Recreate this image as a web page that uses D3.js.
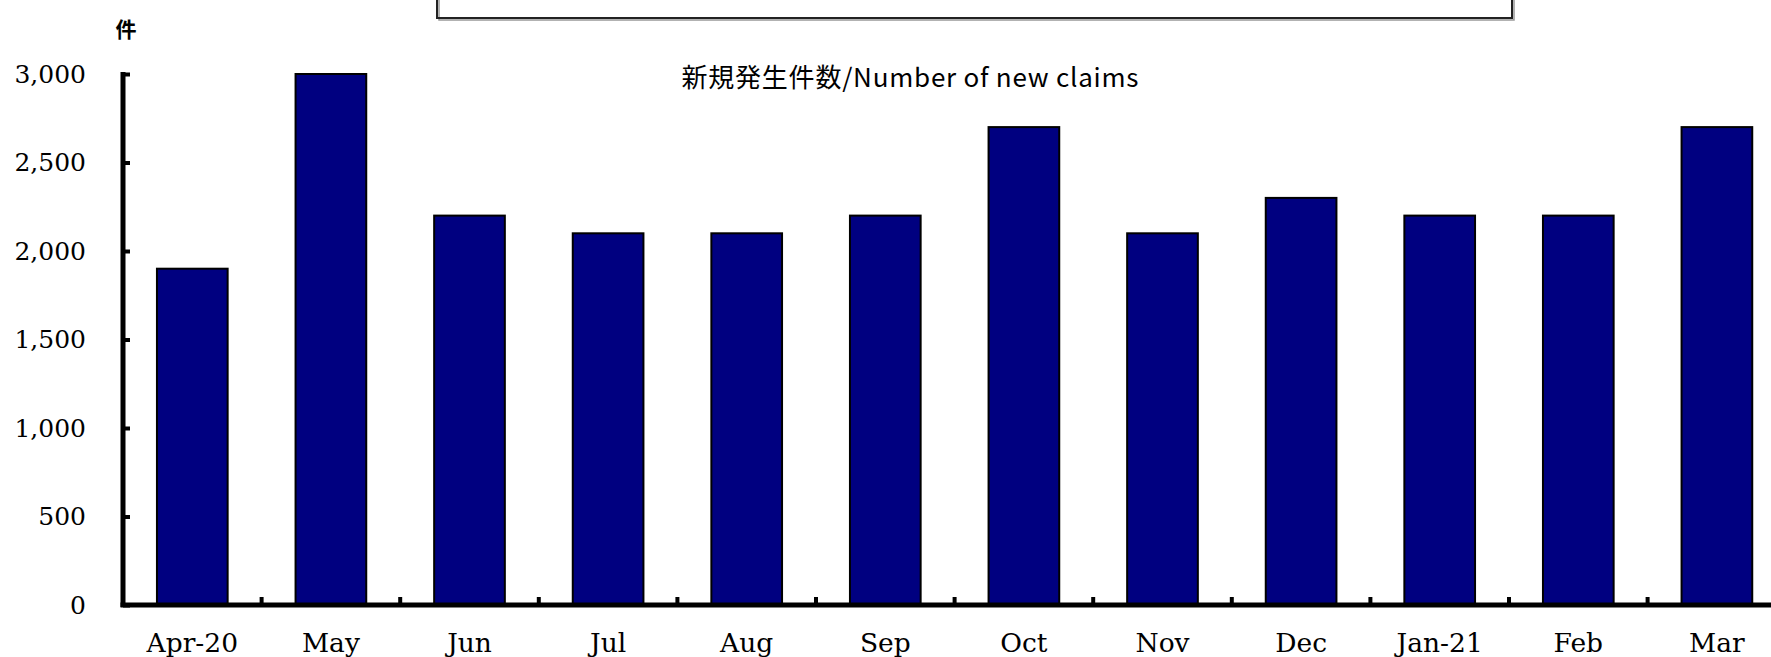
<!DOCTYPE html>
<html>
<head>
<meta charset="utf-8">
<script src="https://cdn.jsdelivr.net/npm/d3@7"></script>
<style>
  body { margin: 0; background: #fff; }
  svg { display: block; }
</style>
</head>
<body>
<svg id="chart" width="1771" height="657"></svg>
<script>
// data
let months = ["Apr-20", "May", "Jun", "Jul", "Aug", "Sep", "Oct", "Nov", "Dec", "Jan-21", "Feb", "Mar"];
let newClaims = [1900, 3000, 2200, 2100, 2100, 2200, 2700, 2100, 2300, 2200, 2200, 2700];
let yTicks = [0, 500, 1000, 1500, 2000, 2500, 3000];
let seriesLabel = "新規発生件数/Number of new claims";
let unitLabel = "件";

let navyColor = "#000080";
let serifFont = "'DejaVu Serif', serif";
let sansFont = "'Noto Sans CJK JP', 'Noto Sans', sans-serif";

let svg = d3.select("#chart");

let plotLeft = 123;
let plotTop = 74;
let plotBottom = 605;
let step = 138.6;

let x = d3.scaleBand()
  .domain(months)
  .range([plotLeft, plotLeft + step * months.length])
  .paddingInner(0.49)
  .paddingOuter(0.245);

let y = d3.scaleLinear()
  .domain([0, 3000])
  .range([plotBottom, plotTop]);

// box at the top (title frame, mostly outside the picture), with a thin shadow
svg.append("rect")
  .attr("x", 439)
  .attr("y", -38)
  .attr("width", 1075)
  .attr("height", 58)
  .style("fill", "none")
  .style("stroke", "#999")
  .style("stroke-width", "1.5px");
svg.append("rect")
  .attr("x", 437)
  .attr("y", -40)
  .attr("width", 1075)
  .attr("height", 58)
  .style("fill", "none")
  .style("stroke", "#222")
  .style("stroke-width", "2px");

// bars
svg.selectAll(".bar")
  .data(newClaims)
  .enter()
  .append("rect")
    .attr("class", "bar")
    .attr("x", function(d, i) { return x(months[i]); })
    .attr("y", function(d) { return y(d); })
    .attr("width", x.bandwidth())
    .attr("height", function(d) { return y(0) - y(d); })
    .style("fill", navyColor)
    .style("stroke", "#000")
    .style("stroke-width", "2px");

// y axis
let yAxis = svg.append("g")
  .attr("transform", "translate(" + plotLeft + ",0)")
  .call(d3.axisLeft(y)
    .tickValues(yTicks)
    .tickSizeInner(-7)
    .tickSizeOuter(0)
    .tickPadding(37)
    .tickFormat(d3.format(",")));
yAxis.select(".domain")
  .attr("d", "M0," + (plotTop - 2) + "V" + (plotBottom + 2))
  .style("stroke", "#000")
  .style("stroke-width", "5px");
yAxis.selectAll(".tick line")
  .style("stroke", "#000")
  .style("stroke-width", "4px");
yAxis.selectAll("text")
  .style("font-family", serifFont)
  .style("font-size", "25px")
  .style("fill", "#000");

// x axis labels
let xAxis = svg.append("g")
  .attr("transform", "translate(0," + plotBottom + ")")
  .call(d3.axisBottom(x).tickSize(0).tickPadding(28));
xAxis.select(".domain").remove();
xAxis.selectAll("text")
  .style("font-family", serifFont)
  .style("font-size", "26.5px")
  .style("fill", "#000");

// x axis line and tick marks between categories
svg.append("line")
  .attr("x1", plotLeft - 2.5)
  .attr("x2", 1771)
  .attr("y1", plotBottom)
  .attr("y2", plotBottom)
  .style("stroke", "#000")
  .style("stroke-width", "5px");

svg.selectAll(".xTick")
  .data(months.slice(0, months.length - 1))
  .enter()
  .append("line")
    .attr("x1", function(d) { return x(d) + x.bandwidth() + (x.step() - x.bandwidth()) / 2; })
    .attr("x2", function(d) { return x(d) + x.bandwidth() + (x.step() - x.bandwidth()) / 2; })
    .attr("y1", plotBottom)
    .attr("y2", plotBottom - 8)
    .style("stroke", "#000")
    .style("stroke-width", "4px");

// unit label
svg.append("text")
  .attr("x", 126)
  .attr("y", 37)
  .text(unitLabel)
  .style("text-anchor", "middle")
  .style("font-family", sansFont)
  .style("font-weight", "bold")
  .style("font-size", "21px");

// series label
svg.append("text")
  .attr("x", 910)
  .attr("y", 87)
  .attr("textLength", 457)
  .attr("lengthAdjust", "spacing")
  .text(seriesLabel)
  .style("text-anchor", "middle")
  .style("font-family", sansFont)
  .style("font-size", "26px");
</script>
</body>
</html>
